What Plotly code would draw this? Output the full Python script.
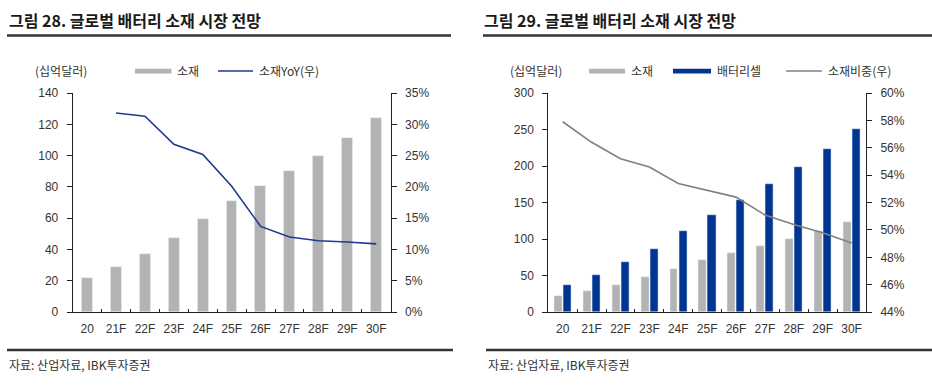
import plotly.graph_objects as go

W, H = 932, 391

categories = ["20", "21F", "22F", "23F", "24F", "25F", "26F", "27F", "28F", "29F", "30F"]
material = [22, 29, 37, 47.5, 59.5, 71, 80.5, 90, 100, 111, 124]
material_yoy = [None, 31.8, 31.3, 26.8, 25.2, 20.1, 13.7, 12.0, 11.4, 11.2, 10.9]
battery_cell = [37, 51.5, 68, 86, 111, 133, 154, 175, 199, 224, 251]
material_share = [57.9, 56.4, 55.2, 54.6, 53.4, 52.9, 52.4, 51.1, 50.4, 49.8, 49.05]

left_ticks = [0, 20, 40, 60, 80, 100, 120, 140]
yoy_ticks = [0, 5, 10, 15, 20, 25, 30, 35]
yoy_labels = ["0%", "5%", "10%", "15%", "20%", "25%", "30%", "35%"]
right_ticks = [0, 50, 100, 150, 200, 250, 300]
share_ticks = [44, 46, 48, 50, 52, 54, 56, 58, 60]
share_labels = ["44%", "46%", "48%", "50%", "52%", "54%", "56%", "58%", "60%"]

GRAY_BAR = "#b3b3b3"
NAVY_LINE = "#1f3a8f"
BLUE_BAR = "#003591"
GRAY_LINE = "#808080"
TXT = "#333333"
FONT = "Liberation Sans, Noto Sans CJK KR, sans-serif"
KFONT = "Noto Sans CJK KR, sans-serif"


def px(x):
    return x / W


def py(y):
    return 1 - y / H


fig = go.Figure()

# Left chart
fig.add_trace(go.Bar(x=categories, y=material, marker_color=GRAY_BAR, width=0.38,
                     xaxis="x", yaxis="y", showlegend=False))
fig.add_trace(go.Scatter(x=categories, y=material_yoy, mode="lines",
                         line=dict(color=NAVY_LINE, width=1.6),
                         xaxis="x", yaxis="y2", showlegend=False))
# Right chart
fig.add_trace(go.Bar(x=categories, y=material, marker_color=GRAY_BAR, width=0.27, offset=-0.29,
                     xaxis="x2", yaxis="y3", showlegend=False))
fig.add_trace(go.Bar(x=categories, y=battery_cell, marker_color=BLUE_BAR, width=0.28, offset=0.02,
                     xaxis="x2", yaxis="y3", showlegend=False))
fig.add_trace(go.Scatter(x=categories, y=material_share, mode="lines",
                         line=dict(color=GRAY_LINE, width=1.6),
                         xaxis="x2", yaxis="y4", showlegend=False))

ydom = [py(316.5), py(89.2)]
xdom1 = [px(72.7), px(390.7)]
xdom2 = [px(548.3), px(866)]

tickfont = dict(family=FONT, size=12, color=TXT)

xcommon = dict(type="category", range=[-0.5, 10.5], showline=True, linecolor="#222222", linewidth=1,
               ticks="inside", ticklen=3, tickcolor="#222222", tickson="boundaries", tickangle=0,
               showgrid=False, zeroline=False, tickfont=tickfont, ticklabelstandoff=5, fixedrange=True)
ycommon = dict(showline=True, linecolor="#222222", linewidth=1, ticks="outside", ticklen=5,
               tickcolor="#222222", showgrid=False, zeroline=False, tickfont=tickfont,
               ticklabelstandoff=6, fixedrange=True)

fig.update_layout(
    width=W, height=H,
    margin=dict(l=0, r=0, t=0, b=0),
    paper_bgcolor="white", plot_bgcolor="white",
    bargap=0,
    xaxis=dict(domain=xdom1, anchor="y", **xcommon),
    yaxis=dict(domain=ydom, anchor="x", range=[0, 140], tickvals=left_ticks, side="left", **ycommon),
    yaxis2=dict(overlaying="y", anchor="x", side="right", range=[0, 35], tickvals=yoy_ticks,
                ticktext=yoy_labels, **ycommon),
    xaxis2=dict(domain=xdom2, anchor="y3", **xcommon),
    yaxis3=dict(domain=ydom, anchor="x2", range=[0, 300], tickvals=right_ticks, side="left", **ycommon),
    yaxis4=dict(overlaying="y3", anchor="x2", side="right", range=[44, 60], tickvals=share_ticks,
                ticktext=share_labels, **ycommon),
)

shapes = []
annotations = []


def text(x, y, s, size=12, bold=False, family=KFONT, color=TXT, xanchor="left"):
    annotations.append(dict(x=px(x), y=py(y), xref="paper", yref="paper", text=("<b>%s</b>" % s) if bold else s,
                            showarrow=False, xanchor=xanchor, yanchor="middle",
                            font=dict(family=family, size=size, color=color)))


def hline(x0, x1, y, color, width):
    shapes.append(dict(type="line", xref="paper", yref="paper", x0=px(x0), x1=px(x1), y0=py(y), y1=py(y),
                       line=dict(color=color, width=width)))


def rect(x0, x1, y0, y1, color):
    shapes.append(dict(type="rect", xref="paper", yref="paper", x0=px(x0), x1=px(x1), y0=py(y0), y1=py(y1),
                       fillcolor=color, line=dict(width=0)))


# Titles and rules
text(7, 13, "그림 28. 글로벌 배터리 소재 시장 전망", size=16, bold=True, color="#1a1a1a")
text(482, 13, "그림 29. 글로벌 배터리 소재 시장 전망", size=16, bold=True, color="#1a1a1a")
hline(7, 451, 29.5, "#333333", 2.5)
hline(483, 932, 29.5, "#333333", 2.5)

# Units and legends, left
text(33, 65.5, "(십억달러)")
rect(135, 171.5, 64, 69, GRAY_BAR)
text(175, 65.5, "소재")
hline(218, 253, 66.5, NAVY_LINE, 1.5)
text(257, 65.5, "소재YoY(우)")

# Units and legends, right
text(508, 65.5, "(십억달러)")
rect(589, 625, 64, 69, GRAY_BAR)
text(629, 65.5, "소재")
rect(673, 711, 64, 69, BLUE_BAR)
text(715, 65.5, "배터리셀")
hline(786, 822, 66.5, GRAY_LINE, 1.5)
text(826, 65.5, "소재비중(우)")

# Footers
hline(7, 453, 355.7, "#333333", 2.5)
hline(486, 932, 355.7, "#333333", 2.5)
text(7, 370.5, "자료: 산업자료, IBK투자증권", size=12)
text(486, 370.5, "자료: 산업자료, IBK투자증권", size=12)

fig.update_layout(shapes=shapes, annotations=annotations)

fig.write_html("out.html", config={"displayModeBar": False},
               post_script="document.body.style.margin='0px';document.body.style.overflow='hidden';")
